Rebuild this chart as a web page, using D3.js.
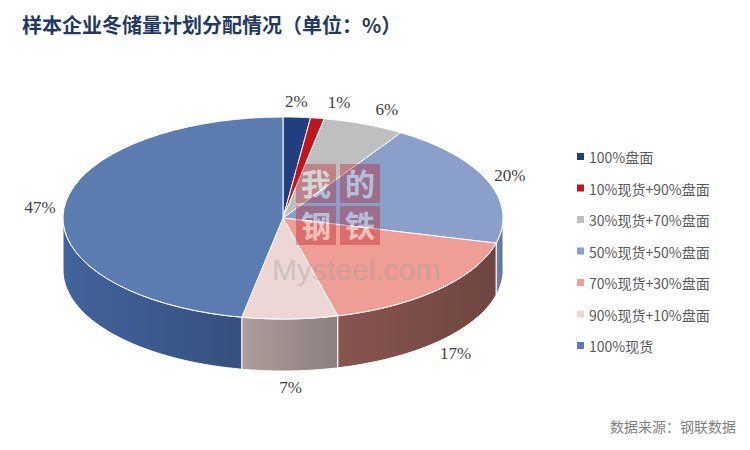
<!DOCTYPE html>
<html><head><meta charset="utf-8">
<script src="https://cdn.jsdelivr.net/npm/d3@7/dist/d3.min.js"></script>
<style>body{margin:0;background:#fff}</style>
</head><body><svg id="c" width="750" height="450"></svg>
<script>
const categories = ['100%盘面','10%现货+90%盘面','30%现货+70%盘面','50%现货+50%盘面','70%现货+30%盘面','90%现货+10%盘面','100%现货'];
const values = [2,1,6,20,17,7,47];
const colors = ['#1f3f7e','#c0141e','#bfbfbf','#8a9fc9','#ee9e95','#ecd7d5','#5b7cb0'];
const sideColors = ['#142a55','#7a0d13','#8a8a8a','#5a6d94','#6e4540','#8c7f7d','#35507e'];

const svg = d3.select('#c');
const cx = 283, cy = 218, rx = 220, ry = 101, depth = 52;

svg.append('text').attr('x', 22).attr('y', 33).attr('fill', '#1f3864')
  .attr('font-family', 'Noto Sans CJK SC').attr('font-weight', 'bold').attr('font-size', 20)
  .text('样本企业冬储量计划分配情况（单位：%）');

const arcs = d3.pie().sort(null)(values);
const pt = (a, dy = 0) => [cx + rx * Math.sin(a), cy - ry * Math.cos(a) + dy];
const arcPts = (a0, a1, dy) => d3.range(0, 41).map(i => pt(a0 + (a1 - a0) * i / 40, dy));

const defs = svg.append('defs');
sideColors.forEach((c, i) => {
  const g = defs.append('linearGradient').attr('id', 'g' + i);
  g.append('stop').attr('offset', '0%').attr('stop-color', d3.color(c).brighter(0.6));
  g.append('stop').attr('offset', '100%').attr('stop-color', c);
});

// side walls (front half only)
arcs.forEach((d, i) => {
  const a0 = Math.max(d.startAngle, Math.PI / 2), a1 = Math.min(d.endAngle, Math.PI * 1.5);
  if (a1 <= a0) return;
  const top = arcPts(a0, a1, 0), bot = arcPts(a0, a1, depth).reverse();
  svg.append('path').attr('d', d3.line()(top.concat(bot)) + 'Z')
    .attr('fill', 'url(#g' + i + ')').attr('stroke', '#fff').attr('stroke-width', 1);
});

// top faces
arcs.forEach((d, i) => {
  const p = [[cx, cy]].concat(arcPts(d.startAngle, d.endAngle, 0));
  svg.append('path').attr('d', d3.line()(p) + 'Z')
    .attr('fill', colors[i]).attr('stroke', '#fff').attr('stroke-width', 1);
});

// watermark
const wm = svg.append('g').attr('opacity', 0.35);
[['我', 296, 164], ['的', 340, 164], ['钢', 296, 206], ['铁', 340, 206]].forEach(([t, x, y]) => {
  wm.append('rect').attr('x', x).attr('y', y).attr('width', 40).attr('height', 39).attr('fill', '#c0141e');
  wm.append('text').attr('x', x + 20).attr('y', y + 31).attr('text-anchor', 'middle').attr('fill', '#fff')
    .attr('font-family', 'Noto Sans CJK SC').attr('font-weight', 'bold').attr('font-size', 30).text(t);
});
wm.append('text').attr('x', 272).attr('y', 280).attr('fill', '#999').attr('font-family', 'Arial, sans-serif')
  .attr('font-size', 30).text('Mysteel.com');

// labels
arcs.forEach((d, i) => {
  const m = (d.startAngle + d.endAngle) / 2;
  let x = cx + (rx + 24) * Math.sin(m), y = cy - (ry + 16) * Math.cos(m) + (Math.cos(m) < 0 ? depth : 0) + 6;
  if (i === 0) x -= 2;
  if (i === 1) x += 18;
  if (i === 2) x += 14;
  svg.append('text').attr('x', x).attr('y', y).attr('text-anchor', 'middle')
    .attr('font-family', 'Liberation Serif').attr('font-size', 17).attr('fill', '#404040').text(values[i] + '%');
});

// legend
categories.forEach((c, i) => {
  const y = 157 + i * 31.5;
  svg.append('rect').attr('x', 577).attr('y', y - 4).attr('width', 7).attr('height', 7).attr('fill', colors[i]);
  svg.append('text').attr('x', 589).attr('y', y + 6).attr('font-family', 'Noto Sans CJK SC')
    .attr('font-size', 14).attr('fill', '#595959').text(c);
});

svg.append('text').attr('x', 736).attr('y', 432).attr('text-anchor', 'end').attr('font-family', 'Noto Sans CJK SC')
  .attr('font-size', 14).attr('fill', '#7f7f7f').text('数据来源：钢联数据');
</script></body></html>
